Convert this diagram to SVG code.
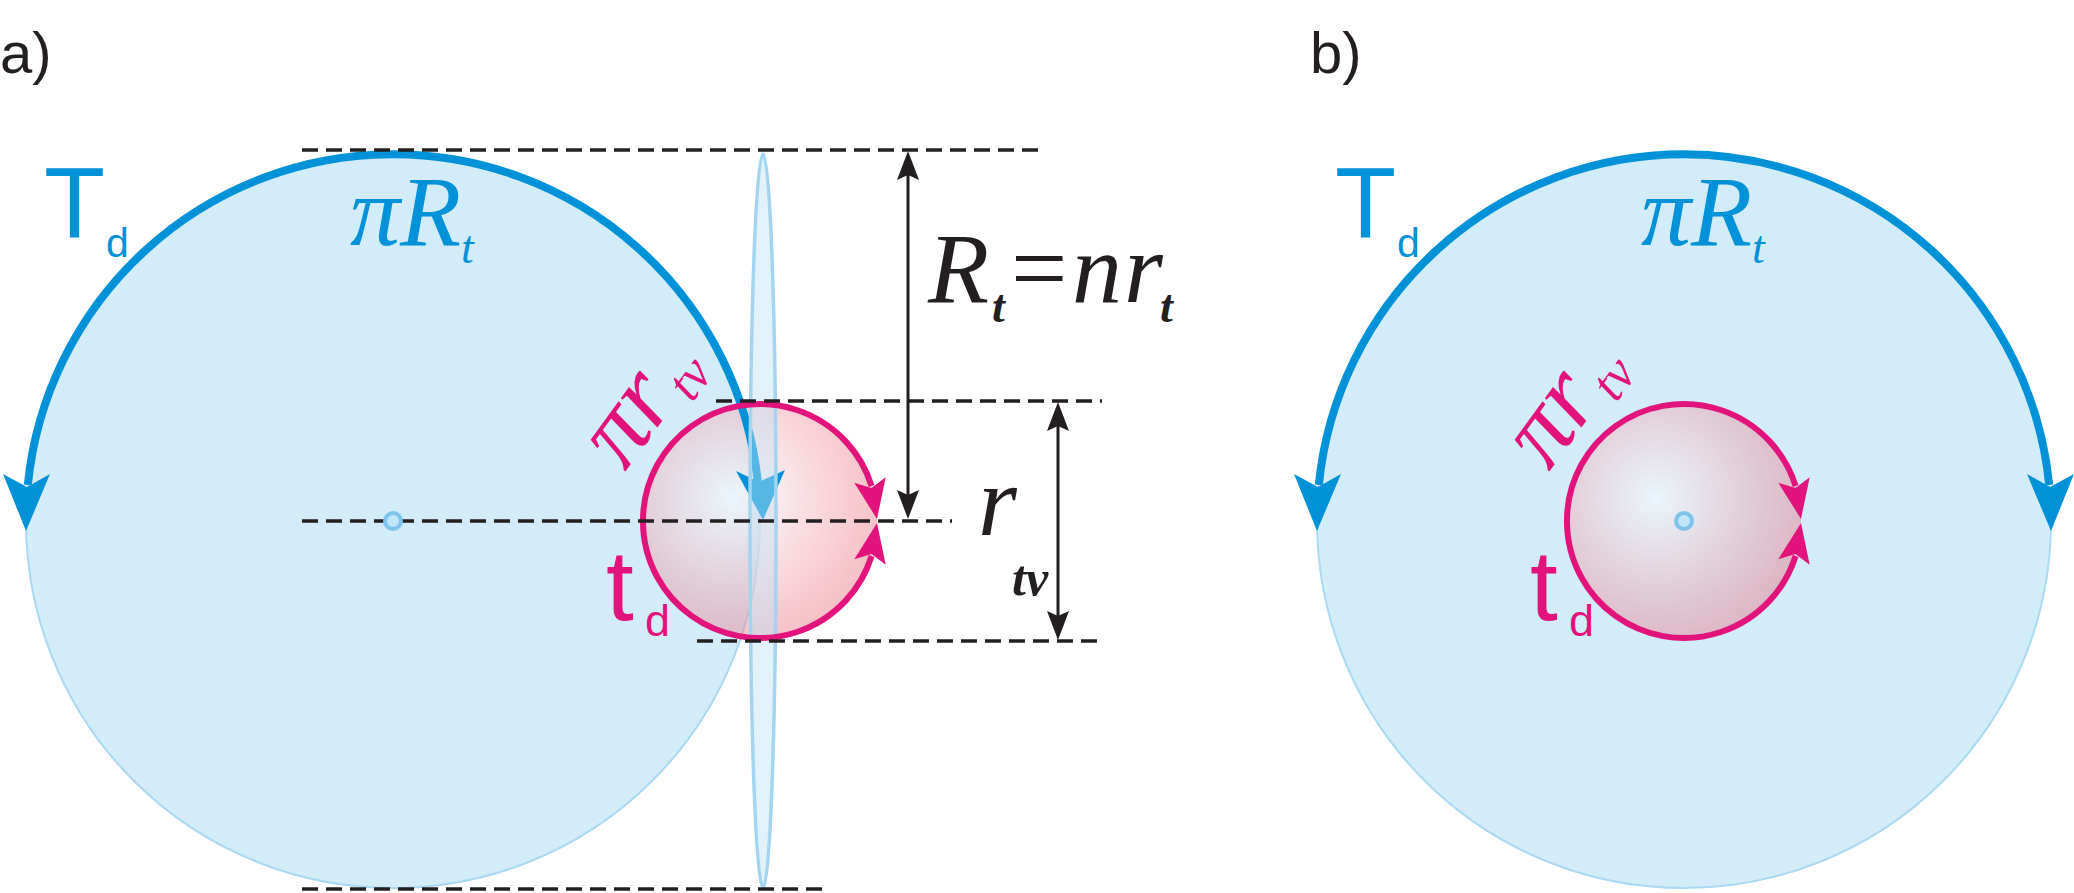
<svg xmlns="http://www.w3.org/2000/svg" width="2074" height="893" viewBox="0 0 2074 893">
<style>
.bg{fill:#d2ecfa;stroke:#a9d9f3;stroke-width:2}
.blue{fill:none;stroke:#0092d8;stroke-width:8}
.bhead{fill:#0092d8}
.pink{fill:none;stroke:#e2137d;stroke-width:6}
.phead{fill:#e2137d}
.dash{fill:none;stroke:#231f20;stroke-width:3.5;stroke-dasharray:16 8}
.dim{fill:none;stroke:#231f20;stroke-width:3}
.khead{fill:#231f20}
.dot{fill:#c3e5f8;stroke:#7ec4ea;stroke-width:4}
.sans{font-family:"Liberation Sans",Arial,sans-serif}
.serif{font-family:"Liberation Serif","Times New Roman",serif;font-style:italic}
.lab{font-family:"Liberation Sans",Arial,sans-serif;font-size:58px;fill:#231f20}
</style>
<defs>
<radialGradient id="pg" cx="0.38" cy="0.4" r="0.7">
<stop offset="0" stop-color="#ffffff" stop-opacity="0.55"/>
<stop offset="1" stop-color="#e8707f" stop-opacity="0.47"/>
</radialGradient>
</defs>

<g id="label-a"><text class="lab" x="0" y="73">a)</text></g>
<g id="label-b"><text class="lab" x="1310" y="73">b)</text></g>

<g id="torus-a">
<circle class="bg" cx="393" cy="521" r="367"/>
</g>
<g id="torus-b">
<circle class="bg" cx="1684" cy="521" r="367"/>
</g>

<g id="tube-a-fill">
<circle cx="760" cy="521" r="117" fill="url(#pg)"/>
</g>

<g id="connectors">
<path class="blue" d="M27.8,485 A367,367 0 0 1 757.9,482"/>
<path class="bhead" d="M26,531 L3,474 L27,487 L50,474 Z"/>
<path class="bhead" d="M763,520 L736,471 L759,482 L785,470 Z"/>
</g>

<g id="tube-a">
<ellipse cx="763" cy="521" rx="13" ry="367" fill="#bfe3f7" fill-opacity="0.45" stroke="#a3d5f1" stroke-width="3.5"/>
<path class="pink" d="M871.6,486 A117,117 0 1 0 871.6,556"/>
<path class="phead" d="M877,519 L854.3,482.8 L871.4,487.9 L885.7,477.2 Z"/>
<path class="phead" d="M877,523 L854.3,559.2 L871.4,554.1 L885.7,564.8 Z"/>
</g>

<g id="connectors-b">
<path class="blue" d="M1318.8,485 A367,367 0 0 1 2049.2,485"/>
<path class="bhead" d="M1317,531 L1294,474 L1318,487 L1341,474 Z"/>
<path class="bhead" d="M2051,531 L2027,474 L2050,487 L2074,474 Z"/>
</g>

<g id="tube-b">
<circle cx="1684" cy="521" r="117" fill="url(#pg)"/>
<path class="pink" d="M1795.6,486 A117,117 0 1 0 1795.6,556"/>
<path class="phead" d="M1801,519 L1778.3,482.8 L1795.4,487.9 L1809.7,477.2 Z"/>
<path class="phead" d="M1801,523 L1778.3,559.2 L1795.4,554.1 L1809.7,564.8 Z"/>
</g>

<g id="guides">
<line class="dash" x1="302" y1="150" x2="1045" y2="150"/>
<line class="dash" x1="716" y1="401" x2="1102" y2="401"/>
<line class="dash" x1="302" y1="521" x2="952" y2="521"/>
<line class="dash" x1="697" y1="641" x2="1102" y2="641"/>
<line class="dash" x1="302" y1="889" x2="823" y2="889"/>
</g>

<g id="dimensions">
<line class="dim" x1="908" y1="172" x2="908" y2="498"/>
<path class="khead" d="M908,151 L897,180 L908,175 L919,180 Z"/>
<path class="khead" d="M908,519 L897,490 L908,495 L919,490 Z"/>
<line class="dim" x1="1058" y1="423" x2="1058" y2="619"/>
<path class="khead" d="M1058,402 L1047,431 L1058,426 L1069,431 Z"/>
<path class="khead" d="M1058,640 L1047,611 L1058,616 L1069,611 Z"/>
</g>

<g id="centers">
<circle class="dot" cx="393" cy="521" r="8"/>
<circle class="dot" cx="1684" cy="521" r="8"/>
</g>

<g id="text-a">
<text class="sans" x="44" y="237" font-size="100" fill="#0092d8">T</text>
<text class="sans" x="106" y="257" font-size="41" fill="#0092d8">d</text>
<text class="serif" x="350" y="245" font-size="100" fill="#0092d8">πR</text>
<text class="serif" x="461" y="263" font-size="46" fill="#0092d8">t</text>
<text class="serif" x="928" y="302" font-size="100" fill="#231f20">R</text>
<text class="serif" x="992" y="322" font-size="46" font-weight="bold" fill="#231f20">t</text>
<text x="1011" y="302" font-size="100" fill="#231f20" style="font-family:'Liberation Serif','Times New Roman',serif">=</text>
<text class="serif" x="1072" y="302" font-size="100" fill="#231f20">n</text>
<text class="serif" x="1124" y="302" font-size="100" fill="#231f20">r</text>
<text class="serif" x="1160" y="322" font-size="46" font-weight="bold" fill="#231f20">t</text>
<text class="serif" x="978" y="535" font-size="100" fill="#231f20">r</text>
<text class="serif" x="1012" y="595" font-size="50" font-weight="bold" fill="#231f20">tv</text>
<text class="serif" font-size="102" fill="#e2137d" transform="translate(625,472) rotate(-54)">πr<tspan font-size="52" dx="4" dy="14">tv</tspan></text>
<text class="sans" x="606" y="620" font-size="100" fill="#e2137d">t</text>
<text class="sans" x="645" y="636" font-size="45" fill="#e2137d">d</text>
</g>

<g id="text-b">
<text class="sans" x="1335" y="237" font-size="100" fill="#0092d8">T</text>
<text class="sans" x="1397" y="257" font-size="41" fill="#0092d8">d</text>
<text class="serif" x="1641" y="245" font-size="100" fill="#0092d8">πR</text>
<text class="serif" x="1752" y="263" font-size="46" fill="#0092d8">t</text>
<text class="serif" font-size="102" fill="#e2137d" transform="translate(1549,472) rotate(-54)">πr<tspan font-size="52" dx="4" dy="14">tv</tspan></text>
<text class="sans" x="1530" y="620" font-size="100" fill="#e2137d">t</text>
<text class="sans" x="1569" y="636" font-size="45" fill="#e2137d">d</text>
</g>
</svg>
